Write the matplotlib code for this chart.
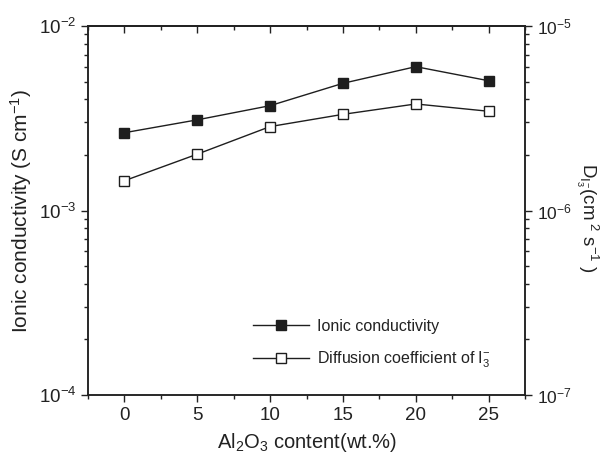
import numpy as np
import matplotlib
matplotlib.use("Agg")
import matplotlib.pyplot as plt
from matplotlib.ticker import MultipleLocator, LogLocator, NullFormatter

plt.rcParams['font.family'] = ['Liberation Sans', 'DejaVu Sans']
plt.rcParams['mathtext.fontset'] = 'custom'
plt.rcParams['mathtext.rm'] = 'Liberation Sans'
plt.rcParams['mathtext.it'] = 'Liberation Sans'

# data
al2o3 = [0, 5, 10, 15, 20, 25]                       # wt.%
sigma = [2.64e-3, 3.10e-3, 3.70e-3, 4.89e-3, 6.02e-3, 5.05e-3]   # S cm-1
diff_i3 = [1.45e-6, 2.02e-6, 2.85e-6, 3.32e-6, 3.78e-6, 3.45e-6]  # cm2 s-1

fig = plt.figure(figsize=(6.05, 4.53), dpi=100)
ax = fig.add_axes([88/605, 1-395/453, (525-88)/605, (395-26)/453])
ax2 = ax.twinx()

col = '#1e1e1e'
l1, = ax.plot(al2o3, sigma, '-s', color=col, lw=1.0, ms=7,
              mfc=col, mec=col, label='Ionic conductivity')
l2, = ax2.plot(al2o3, diff_i3, '-s', color=col, lw=1.0, ms=7,
               mfc='white', mec=col, mew=1.0,
               label='Diffusion coefficient of I$_3^{-}$')

ax.set_yscale('log')
ax2.set_yscale('log')
ax.set_ylim(1e-4, 1e-2)
ax2.set_ylim(1e-7, 1e-5)
ax.set_xlim(-2.5, 27.5)
ax.xaxis.set_major_locator(MultipleLocator(5))
ax.xaxis.set_minor_locator(MultipleLocator(2.5))

for a in (ax, ax2):
    a.yaxis.set_major_locator(LogLocator(base=10, numticks=10))
    a.yaxis.set_minor_locator(LogLocator(base=10, subs=np.arange(2, 10), numticks=10))
    a.yaxis.set_minor_formatter(NullFormatter())
    for s in a.spines.values():
        s.set_linewidth(1.1)
        s.set_color('#222222')

ax.tick_params(axis='both', which='major', direction='out', length=5, width=1.0,
               labelsize=13.5, colors='#222222')
ax.tick_params(axis='both', which='minor', direction='out', length=3, width=1.0,
               colors='#222222')
ax2.tick_params(axis='y', which='major', direction='out', length=5, width=1.0,
                labelsize=12.5, colors='#222222')
ax2.tick_params(axis='y', which='minor', direction='out', length=3, width=1.0,
                colors='#222222')

# top axis: ticks pointing in, no labels
top = ax.secondary_xaxis('top')
top.xaxis.set_major_locator(MultipleLocator(5))
top.xaxis.set_minor_locator(MultipleLocator(2.5))
top.tick_params(which='major', direction='in', length=5, width=1.0, labeltop=False,
                colors='#222222')
top.tick_params(which='minor', direction='in', length=3, width=1.0, colors='#222222')
top.spines['top'].set_linewidth(1.1)

ax.set_xlabel('Al$_2$O$_3$ content(wt.%)', fontsize=14.5, labelpad=5, color='#222222')
ax.set_ylabel('Ionic conductivity (S cm$^{-1}$)', fontsize=15, labelpad=3, color='#222222')
ax2.set_ylabel('D$_{I_3^{-}}$(cm$^{\\ 2}$ s$^{-1}$ )', fontsize=13.5, rotation=-90,
               color='#222222')
ax2.yaxis.set_label_coords(1.172, 0.48)

leg = ax.legend([l1, l2], [l1.get_label(), l2.get_label()], loc='upper left',
                bbox_to_anchor=(0.345, 0.245), frameon=False, fontsize=11.5,
                handlelength=3.5, handletextpad=0.5, labelspacing=1.0)
for t in leg.get_texts():
    t.set_color('#222222')

fig.savefig('out.png', dpi=100)
